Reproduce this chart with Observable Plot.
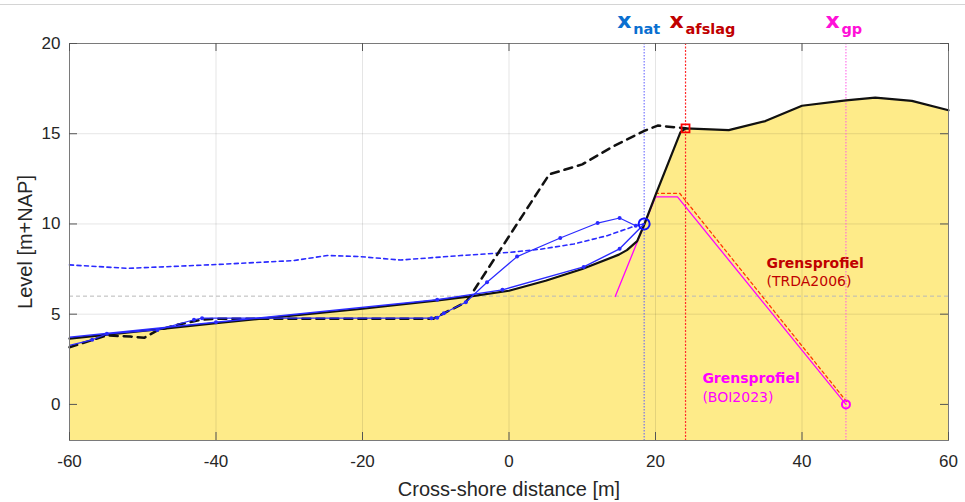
<!DOCTYPE html>
<html><head><meta charset="utf-8">
<script src="https://cdn.jsdelivr.net/npm/d3@7"></script>
<script src="https://cdn.jsdelivr.net/npm/@observablehq/plot@0.6"></script>
<style>
html,body{margin:0;padding:0;background:#fff;}
#topline{position:absolute;left:0;top:4px;width:965px;height:1px;background:#d4d4d4;}
#chart{position:absolute;left:0;top:0;}
</style></head><body>
<div id="topline"></div>
<div id="chart"></div>
<script>
// ---- data ----
const xTicks = [-60, -40, -20, 0, 20, 40, 60];
const yTicks = [0, 5, 10, 15, 20];
const xDomain = [-60, 60];
const yDomain = [-2, 20];

// current profile (black solid, filled)
const profX = [-60, -40, -20, -10, -5, 0, 5, 10, 15, 16.1, 17.5, 18.4, 20, 23.4, 24.1, 30, 35, 40, 46, 50, 55, 60];
const profY = [3.65, 4.5, 5.3, 5.75, 6.0, 6.3, 6.85, 7.5, 8.3, 8.55, 9.05, 9.9, 11.6, 15.07, 15.3, 15.2, 15.7, 16.55, 16.85, 17.0, 16.82, 16.3];

// earlier profile (black dashed)
const dashX = [-60, -54.9, -51.7, -49.8, -48, -45.3, -42.1, -39.8, -10.3, -8.9, -5.9, -5.3, 5.5, 10, 14, 18.4, 20.3, 24.1];
const dashY = [3.17, 3.82, 3.76, 3.69, 4.1, 4.41, 4.69, 4.75, 4.75, 5.05, 5.66, 6.0, 12.75, 13.3, 14.25, 15.15, 15.45, 15.3];

// blue profile with markers (upper)
const b1X = [-60, -56.9, -54.9, -48, -43, -41.9, -10.6, -9.8, -8.9, -5.9, -3.0, 1.1, 7.0, 12.1, 15.1, 17.3, 18.45];
const b1Y = [3.27, 3.58, 3.91, 4.13, 4.69, 4.78, 4.78, 4.8, 5.05, 5.66, 6.77, 8.19, 9.22, 10.05, 10.33, 9.9, 10.0];

// blue profile with markers (lower)
const b2X = [-60, -40, -9.8, -0.9, 10.2, 15.1, 18.45];
const b2Y = [3.72, 4.55, 5.8, 6.35, 7.62, 8.62, 10.0];

// blue dashed line
const b3X = [-60, -52, -40, -29.4, -24.8, -20.3, -14.8, -6.6, 0.2, 4.3, 8.85, 13.4, 17.3, 18.45];
const b3Y = [7.73, 7.54, 7.75, 7.97, 8.25, 8.19, 8.0, 8.25, 8.43, 8.6, 8.89, 9.35, 9.9, 10.0];

// Grensprofiel BOI2023 (magenta) and TRDA2006 (red dashed)
const gpX = [14.5, 20, 23.0, 46.0];
const gpY = [5.98, 11.5, 11.5, 0];
const trX = [20, 23.3, 46.2];
const trY = [11.7, 11.7, 0.1];

// reference level
const refLevel = [6.0];

// characteristic positions
const xNat = 18.45, xAfslag = 24.1, xGp = 46.0;
const natPoint = [{x: 18.45, y: 10.0}];
const afslagPoint = [{x: 24.1, y: 15.3}];
const gpPoint = [{x: 46.0, y: 0}];

const xLabels = [
  {x: xNat, main: "x", sub: "nat", color: "#0a6fd0", dx: -27},
  {x: xAfslag, main: "x", sub: "afslag", color: "#c00000", dx: -16},
  {x: xGp, main: "x", sub: "gp", color: "#ff10d8", dx: -20.5}
];

const annotations = [
  {x: 35.15, y: 7.83, text: "Grensprofiel", color: "#c00000", weight: "bold"},
  {x: 35.15, y: 6.8, text: "(TRDA2006)", color: "#c00000", weight: "normal"},
  {x: 26.4, y: 1.44, text: "Grensprofiel", color: "#ff00ff", weight: "bold"},
  {x: 26.4, y: 0.39, text: "(BOI2023)", color: "#ff00ff", weight: "normal"}
];

const xTitle = "Cross-shore distance [m]";
const yTitle = "Level [m+NAP]";

// ---- build ----
const zip = (X, Y) => X.map((x, i) => ({x, y: Y[i]}));
const profile = zip(profX, profY);
const dashed = zip(dashX, dashY);
const b1 = zip(b1X, b1Y);
const b2 = zip(b2X, b2Y);
const b3 = zip(b3X, b3Y);
const gp = zip(gpX, gpY);
const tr = zip(trX, trY);

const W = 965, H = 502, mT = 43, mB = 62, mL = 69, mR = 17;
const frameH = H - mT - mB, frameW = W - mL - mR;
const tick = 8;
const blue = "#2a2aff";
const annoFont = "'DejaVu Sans', Verdana, sans-serif";

const marks = [
  Plot.areaY(profile, {x: "x", y1: () => yDomain[0], y2: "y", fill: "#feeb89"}),
  Plot.ruleX(xTicks.slice(1, -1), {stroke: "#000", strokeOpacity: 0.1}),
  Plot.ruleY(yTicks.slice(1, -1), {stroke: "#000", strokeOpacity: 0.1}),
  Plot.ruleY(refLevel, {stroke: "#b8b8b8", strokeDasharray: "4,3"}),
  Plot.ruleX([xNat], {stroke: "#5a5aff", strokeDasharray: "1.5,1.5", strokeWidth: 1}),
  Plot.ruleX([xAfslag], {stroke: "#ff2a2a", strokeDasharray: "2,1.5", strokeWidth: 1.2}),
  Plot.ruleX([xGp], {stroke: "#ff5ae6", strokeDasharray: "1.5,1.5", strokeWidth: 1}),
  Plot.line(b3, {x: "x", y: "y", stroke: blue, strokeWidth: 1.6, strokeDasharray: "4,3.5"}),
  Plot.line(tr, {x: "x", y: "y", stroke: "#ff3a00", strokeWidth: 1.3, strokeDasharray: "3,3"}),
  Plot.line(gp, {x: "x", y: "y", stroke: "#ff00ff", strokeWidth: 1.3}),
  Plot.line(dashed, {x: "x", y: "y", stroke: "#111", strokeWidth: 2.5, strokeDasharray: "8,6"}),
  Plot.line(profile, {x: "x", y: "y", stroke: "#111", strokeWidth: 2.2}),
  Plot.line(b2, {x: "x", y: "y", stroke: blue, strokeWidth: 1.4}),
  Plot.line(b1, {x: "x", y: "y", stroke: blue, strokeWidth: 1.2}),
  Plot.dot(b1.slice(1, -1), {x: "x", y: "y", r: 2, fill: blue}),
  Plot.dot(b2.slice(1, -1), {x: "x", y: "y", r: 2, fill: blue}),
  Plot.dot(natPoint, {x: "x", y: "y", r: 5.5, stroke: "#1010ff", strokeWidth: 2, fill: "none"}),
  Plot.dot(gpPoint, {x: "x", y: "y", r: 4, stroke: "#ff00ff", strokeWidth: 2, fill: "none"}),
  Plot.dot(afslagPoint, {x: "x", y: "y", r: 4.5, symbol: "square", stroke: "#ff0000", strokeWidth: 1.8, fill: "none"}),
  Plot.frame({stroke: "#7a7a7a", strokeWidth: 1}),
  Plot.ruleX(xTicks, {stroke: "#555", insetTop: frameH - tick}),
  Plot.ruleX(xTicks, {stroke: "#555", insetBottom: frameH - tick}),
  Plot.ruleY(yTicks, {stroke: "#555", insetRight: frameW - tick}),
  Plot.ruleY(yTicks, {stroke: "#555", insetLeft: frameW - tick}),
  Plot.text([xTitle], {text: d => d, frameAnchor: "bottom", textAnchor: "middle", lineAnchor: "middle", dy: 49, fontSize: 20, fill: "#262626"}),
  Plot.text([yTitle], {text: d => d, frameAnchor: "left", textAnchor: "middle", lineAnchor: "middle", dx: -44, rotate: -90, fontSize: 20, fill: "#262626"})
];

for (const a of annotations) {
  marks.push(Plot.text([a], {x: "x", y: "y", text: "text", textAnchor: "start", fill: a.color,
    fontWeight: a.weight, fontSize: 14, fontFamily: annoFont}));
}
for (const l of xLabels) {
  marks.push(Plot.text([l], {x: "x", text: "main", frameAnchor: "top", lineAnchor: "bottom", textAnchor: "start",
    dx: l.dx, dy: -16, fill: l.color, fontWeight: "bold", fontSize: 22, fontFamily: annoFont}));
  marks.push(Plot.text([l], {x: "x", text: "sub", frameAnchor: "top", lineAnchor: "bottom", textAnchor: "start",
    dx: l.dx + 16, dy: -10, fill: l.color, fontWeight: "bold", fontSize: 14.5, fontFamily: annoFont}));
}

const chart = Plot.plot({
  width: W, height: H,
  marginTop: mT, marginBottom: mB, marginLeft: mL, marginRight: mR,
  x: {domain: xDomain, ticks: xTicks, tickSize: 0, tickPadding: 14, tickFormat: d => String(d), label: null},
  y: {domain: yDomain, ticks: yTicks, tickSize: 0, tickPadding: 9, tickFormat: d => String(d), label: null},
  style: {fontFamily: "'Liberation Sans', Arial, sans-serif", fontSize: "17px", color: "#262626", background: "transparent", overflow: "visible"},
  marks
});
document.getElementById("chart").appendChild(chart);
</script></body></html>
